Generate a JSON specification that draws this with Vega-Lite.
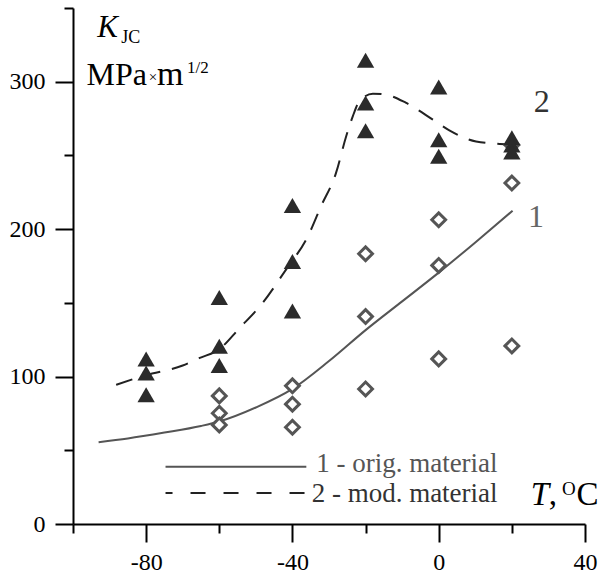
{
  "$schema": "https://vega.github.io/schema/vega-lite/v6.json",
  "width": 512,
  "height": 516,
  "autosize": "none",
  "padding": {"left": 73, "top": 8, "right": 23, "bottom": 55},
  "background": "white",
  "config": {
    "view": {"stroke": null},
    "font": "Liberation Serif",
    "text": {"font": "Liberation Serif"},
    "axis": {"labelFont": "Liberation Serif"}
  },
  "datasets": {
    "tri": [
      {"T": -80, "K": 112}, {"T": -80, "K": 102.5}, {"T": -80, "K": 87.6},
      {"T": -60, "K": 153.6}, {"T": -60, "K": 120.6}, {"T": -60, "K": 107.5},
      {"T": -40, "K": 216}, {"T": -40, "K": 178}, {"T": -40, "K": 144.4},
      {"T": -20, "K": 314.5}, {"T": -20, "K": 285.6}, {"T": -20, "K": 266.8},
      {"T": 0, "K": 296.4}, {"T": 0, "K": 260.7}, {"T": 0, "K": 249.4},
      {"T": 20, "K": 262}, {"T": 20, "K": 257}, {"T": 20, "K": 252.3}
    ],
    "dia": [
      {"T": -60, "K": 86.9}, {"T": -60, "K": 75.1}, {"T": -60, "K": 67.2},
      {"T": -40, "K": 93.7}, {"T": -40, "K": 81.3}, {"T": -40, "K": 65.6},
      {"T": -20, "K": 183.3}, {"T": -20, "K": 140.7}, {"T": -20, "K": 91.6},
      {"T": 0, "K": 206.4}, {"T": 0, "K": 175.4}, {"T": 0, "K": 112},
      {"T": 20, "K": 257}, {"T": 20, "K": 231.3}, {"T": 20, "K": 120.8}
    ],
    "c1": [
      {"T": -93, "K": 55.5}, {"T": -85, "K": 58}, {"T": -75, "K": 62}, {"T": -65, "K": 66.5},
      {"T": -60, "K": 69.5}, {"T": -50, "K": 79}, {"T": -40, "K": 91.6}, {"T": -30, "K": 110.5},
      {"T": -20, "K": 131.5}, {"T": -10, "K": 151}, {"T": 0, "K": 170.5}, {"T": 10, "K": 191},
      {"T": 20.2, "K": 212.5}
    ],
    "c2": [
      {"T": -88.2, "K": 94.4}, {"T": -80, "K": 101}, {"T": -70, "K": 107.5}, {"T": -65.5, "K": 112.5},
      {"T": -60, "K": 118.6}, {"T": -54.5, "K": 132.8}, {"T": -48.2, "K": 149.8}, {"T": -41.8, "K": 172.4},
      {"T": -35.8, "K": 195}, {"T": -32.2, "K": 215.4}, {"T": -28.1, "K": 238}, {"T": -25.3, "K": 263},
      {"T": -23.5, "K": 276.5}, {"T": -21.7, "K": 286.7}, {"T": -18, "K": 291.9}, {"T": -14.4, "K": 291.2},
      {"T": -8.9, "K": 285.6}, {"T": -1.6, "K": 274.3}, {"T": 2.9, "K": 267}, {"T": 10.2, "K": 259.5},
      {"T": 20.2, "K": 257.3}
    ],
    "leg1": [{"T": -74.7, "K": 38.9}, {"T": -36.2, "K": 38.9}],
    "leg2": [{"T": -74.7, "K": 21.0}, {"T": -36.0, "K": 21.0}],
    "legtxt1": [{"T": 16.1, "K": 35.3, "label": "1 - orig. material"}],
    "legtxt2": [{"T": 16.1, "K": 15.1, "label": "2 - mod. material"}],
    "lab1": [{"T": 26.6, "K": 201.6, "label": "1"}],
    "lab2": [{"T": 28.2, "K": 279.7, "label": "2"}],
    "titK": [{"T": -93.4, "K": 330.6, "label": "K"}],
    "titJC": [{"T": -86.8, "K": 326.5, "label": "JC"}],
    "titMPa": [{"T": -96.3, "K": 298, "label": "MPa"}],
    "titX": [{"T": -78.1, "K": 299.5, "label": "×"}],
    "titM": [{"T": -77.0, "K": 298, "label": "m"}],
    "titHalf": [{"T": -68.8, "K": 306, "label": "1/2"}],
    "axT": [{"T": 25.2, "K": 12.9, "label": "T"}],
    "axComma": [{"T": 30.1, "K": 12.9, "label": ","}],
    "axO": [{"T": 33.7, "K": 19.7, "label": "O"}],
    "axC": [{"T": 37.7, "K": 12.9, "label": "C"}]
  },
  "encoding": {
    "x": {
      "field": "T", "type": "quantitative",
      "scale": {"domain": [-100, 40], "nice": false, "zero": false},
      "axis": {
        "title": null, "grid": false,
        "values": [-100, -80, -60, -40, -20, 0, 20, 40],
        "labelExpr": "datum.value % 40 === 0 ? '' + datum.value : ''",
        "tickSize": {"condition": {"test": "datum.value % 40 === 0", "value": 18}, "value": 9},
        "domainColor": "black", "domainWidth": 2, "tickColor": "black", "tickWidth": 2,
        "labelFont": "Liberation Serif", "labelFontSize": 24, "labelColor": "black",
        "labelPadding": 8, "labelFlush": false, "labelOverlap": false
      }
    },
    "y": {
      "field": "K", "type": "quantitative",
      "scale": {"domain": [0, 350], "nice": false},
      "axis": {
        "title": null, "grid": false,
        "values": [0, 50, 100, 150, 200, 250, 300, 350],
        "labelExpr": "datum.value % 100 === 0 ? '' + datum.value : ''",
        "tickSize": {"condition": {"test": "datum.value % 100 === 0", "value": 18}, "value": 9},
        "domainColor": "black", "domainWidth": 2, "tickColor": "black", "tickWidth": 2,
        "labelFont": "Liberation Serif", "labelFontSize": 24, "labelColor": "black",
        "labelPadding": 10, "labelFlush": false, "labelOverlap": false
      }
    }
  },
  "layer": [
    {"data": {"name": "c1"}, "mark": {"type": "line", "interpolate": "monotone", "color": "#555555", "strokeWidth": 2}},
    {"data": {"name": "c2"}, "mark": {"type": "line", "interpolate": "monotone", "color": "#222222", "strokeWidth": 2, "strokeDash": [17, 12]}},
    {"data": {"name": "leg1"}, "mark": {"type": "line", "color": "#555555", "strokeWidth": 2}},
    {"data": {"name": "leg2"}, "mark": {"type": "line", "color": "#222222", "strokeWidth": 2, "strokeDash": [15, 18], "strokeDashOffset": 8}},
    {"data": {"name": "dia"}, "mark": {"type": "point", "shape": "diamond", "size": 190, "filled": false, "fill": "white", "fillOpacity": 1, "stroke": "#555555", "strokeWidth": 3, "opacity": 1}},
    {"data": {"name": "tri"}, "mark": {"type": "point", "shape": "triangle-up", "size": 300, "filled": true, "color": "#2b2b2b", "opacity": 1}},
    {"data": {"name": "legtxt1"}, "mark": {"type": "text", "font": "Liberation Serif", "align": "right", "baseline": "alphabetic", "fontSize": 27, "color": "#555555"}, "encoding": {"text": {"field": "label"}}},
    {"data": {"name": "legtxt2"}, "mark": {"type": "text", "font": "Liberation Serif", "align": "right", "baseline": "alphabetic", "fontSize": 27, "color": "#333333"}, "encoding": {"text": {"field": "label"}}},
    {"data": {"name": "lab1"}, "mark": {"type": "text", "font": "Liberation Serif", "align": "center", "baseline": "alphabetic", "fontSize": 32, "color": "#666666"}, "encoding": {"text": {"field": "label"}}},
    {"data": {"name": "lab2"}, "mark": {"type": "text", "font": "Liberation Serif", "align": "center", "baseline": "alphabetic", "fontSize": 32, "color": "#333333"}, "encoding": {"text": {"field": "label"}}},
    {"data": {"name": "titK"}, "mark": {"type": "text", "font": "Liberation Serif", "align": "left", "baseline": "alphabetic", "fontSize": 31, "fontStyle": "italic", "color": "black"}, "encoding": {"text": {"field": "label"}}},
    {"data": {"name": "titJC"}, "mark": {"type": "text", "font": "Liberation Serif", "align": "left", "baseline": "alphabetic", "fontSize": 18, "color": "black"}, "encoding": {"text": {"field": "label"}}},
    {"data": {"name": "titMPa"}, "mark": {"type": "text", "font": "Liberation Serif", "align": "left", "baseline": "alphabetic", "fontSize": 32, "color": "black"}, "encoding": {"text": {"field": "label"}}},
    {"data": {"name": "titX"}, "mark": {"type": "text", "font": "Liberation Serif", "align": "center", "baseline": "alphabetic", "fontSize": 15, "color": "black"}, "encoding": {"text": {"field": "label"}}},
    {"data": {"name": "titM"}, "mark": {"type": "text", "font": "Liberation Serif", "align": "left", "baseline": "alphabetic", "fontSize": 34, "color": "black"}, "encoding": {"text": {"field": "label"}}},
    {"data": {"name": "titHalf"}, "mark": {"type": "text", "font": "Liberation Serif", "align": "left", "baseline": "alphabetic", "fontSize": 17, "color": "black"}, "encoding": {"text": {"field": "label"}}},
    {"data": {"name": "axT"}, "mark": {"type": "text", "font": "Liberation Serif", "align": "left", "baseline": "alphabetic", "fontSize": 33, "fontStyle": "italic", "color": "black"}, "encoding": {"text": {"field": "label"}}},
    {"data": {"name": "axComma"}, "mark": {"type": "text", "font": "Liberation Serif", "align": "left", "baseline": "alphabetic", "fontSize": 33, "color": "black"}, "encoding": {"text": {"field": "label"}}},
    {"data": {"name": "axO"}, "mark": {"type": "text", "font": "Liberation Serif", "align": "left", "baseline": "alphabetic", "fontSize": 19, "color": "black"}, "encoding": {"text": {"field": "label"}}},
    {"data": {"name": "axC"}, "mark": {"type": "text", "font": "Liberation Serif", "align": "left", "baseline": "alphabetic", "fontSize": 33, "color": "black"}, "encoding": {"text": {"field": "label"}}}
  ]
}
